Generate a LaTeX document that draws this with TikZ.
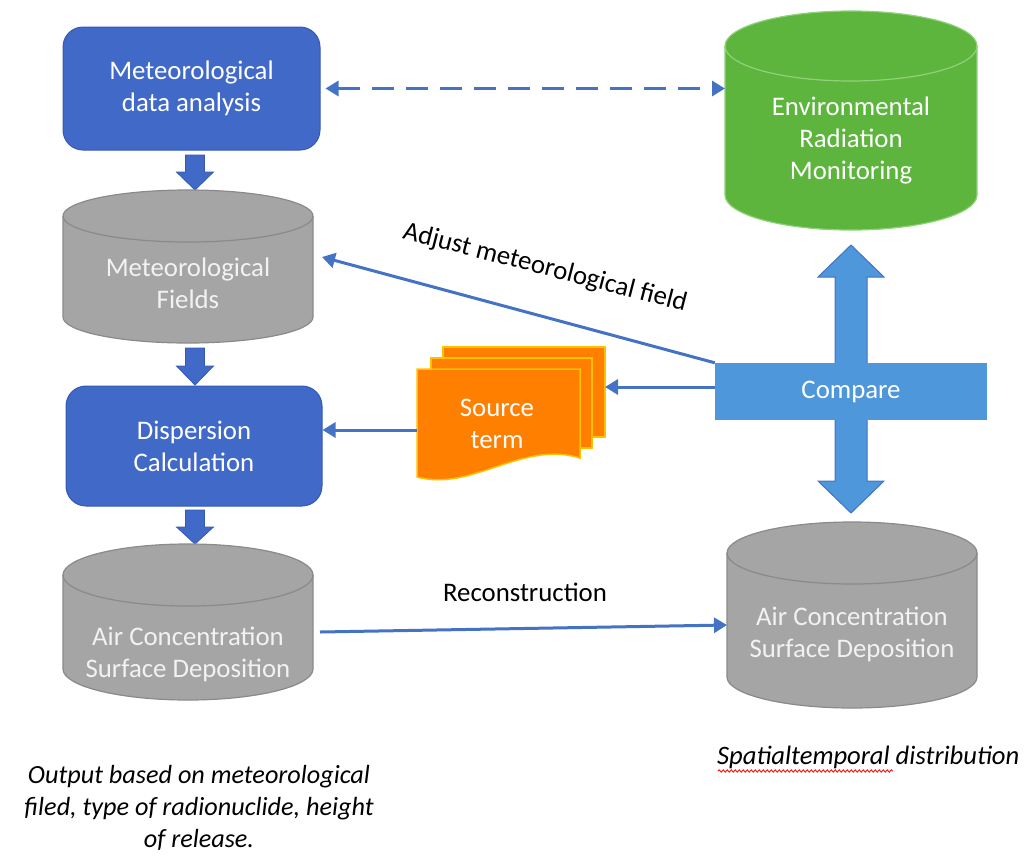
\documentclass[tikz,border=0pt]{standalone}
\usepackage{fontspec}
\setmainfont{Carlito}
\usetikzlibrary{arrows.meta,decorations.pathmorphing}
\definecolor{boxblue}{HTML}{4069C8}
\definecolor{boxedge}{HTML}{3559B0}
\definecolor{lineblue}{HTML}{4472C4}
\definecolor{cylgray}{HTML}{A5A5A5}
\definecolor{cyledge}{HTML}{8A8A8A}
\definecolor{txtgray}{HTML}{F2F2F2}
\definecolor{cylgreen}{HTML}{5DB53D}
\definecolor{greenedge}{HTML}{8FD27A}
\definecolor{cmpblue}{HTML}{4E97DA}
\definecolor{srcorange}{HTML}{FF7F00}
\definecolor{srcedge}{HTML}{FFC000}
\newcommand\cylshape[7]{%
  \pgfmathsetmacro\crx{(#2-#1)/2}%
  \filldraw[fill=#6, draw=#7, line width=1.2pt] (#1,#3+#5) -- (#1,#4-#5)
    arc[start angle=180,end angle=360,x radius=\crx pt,y radius=#5pt]
    -- (#2,#3+#5)
    arc[start angle=0,end angle=180,x radius=\crx pt,y radius=#5pt] -- cycle;
  \draw[draw=#7, line width=1.2pt] (#1,#3+#5)
    arc[start angle=180,end angle=360,x radius=\crx pt,y radius=#5pt];
}
\newcommand\blkdown[4]{%
  \filldraw[fill=boxblue, draw=boxedge, line width=0.8pt]
    (#1-9.5,#2) -- (#1+9.5,#2) -- (#1+9.5,#3) -- (#1+18.5,#3) -- (#1,#4)
    -- (#1-18.5,#3) -- (#1-9.5,#3) -- cycle;
}
\begin{document}
\begin{tikzpicture}[x=1pt,y=-1pt,
  conn/.style={draw=lineblue, line width=3pt, -{Triangle[length=13pt,width=15pt]}},
  big/.style={font=\fontsize{26.8}{32}\selectfont},
  wtxt/.style={big, align=center, text=white, inner sep=0pt},
  gtxt/.style={big, align=center, text=txtgray, inner sep=0pt},
  btxt/.style={big, align=center, text=black, inner sep=0pt},
  ghost/.style={inner sep=0pt, outer sep=0pt, draw=none},
  bluebox/.style={wtxt, fill=boxblue, draw=boxedge, line width=1pt, rounded corners=20pt},
  srcpage/.style={fill=srcorange, draw=srcedge, line width=1.5pt}]
\useasboundingbox (0,0) rectangle (1026,855);

% ---- left column ----
\node[bluebox, minimum width=257pt, minimum height=123pt] (met) at (191.5,88.5) {Meteorological\\data analysis};
\blkdown{195}{155}{172}{190}

\cylshape{63}{313}{190}{343}{26}{cylgray}{cyledge}
\node[ghost, minimum width=250pt, minimum height=153pt] (fields) at (188,266.5) {};
\node[gtxt] (fieldsT) at (188,283) {Meteorological\\Fields};
\blkdown{195}{348}{366}{385}

\node[bluebox, minimum width=256pt, minimum height=120pt] (disp) at (194,446) {Dispersion\\Calculation};
\blkdown{195}{510}{527}{544}

\cylshape{63}{313}{544}{700}{31}{cylgray}{cyledge}
\node[ghost, minimum width=250pt, minimum height=156pt] (airL) at (188,622) {};
\node[gtxt] (airLT) at (188,654) {Air Concentration\\Surface Deposition};

% ---- right column ----
\cylshape{725}{977}{11}{230}{35}{cylgreen}{greenedge}
\node[ghost, minimum width=252pt, minimum height=219pt] (env) at (851,120.5) {};
\node[wtxt] (envT) at (851,140) {Environmental\\Radiation\\Monitoring};

\cylshape{727}{977}{522}{708}{31}{cylgray}{cyledge}
\node[ghost, minimum width=250pt, minimum height=186pt] (airR) at (852,615) {};
\node[gtxt] (airRT) at (852,634) {Air Concentration\\Surface Deposition};

% compare cross
\filldraw[fill=cmpblue, draw=lineblue, line width=1pt]
  (851,245) -- (884,277) -- (867,277) -- (867,481) -- (884,481) -- (851,513)
  -- (818,481) -- (835,481) -- (835,277) -- (818,277) -- cycle;
\node[wtxt, fill=cmpblue, minimum width=272pt, minimum height=57pt] (compare) at (851,391.5) {Compare};

% source term
\filldraw[srcpage] (443,347) rectangle (605,437);
\filldraw[srcpage] (431,358) rectangle (592,448);
\filldraw[srcpage] (417,369) -- (417,477) .. controls (472,492) and (522,440) .. (580,458) -- (580,369) -- cycle;
\node[ghost, minimum width=162pt, minimum height=90pt] (srcback) at (524,392) {};
\node[ghost, minimum width=163pt, minimum height=108pt] (srcfront) at (498.5,423) {};
\node[wtxt] (srcT) at (497,424) {Source\\term};

% ---- connectors ----
\draw[line width=3pt, draw=lineblue, dash pattern=on 22pt off 12pt,
  {Triangle[length=13pt,width=15pt]}-{Triangle[length=13pt,width=15pt]}]
  ([xshift=5pt]met.east) -- (env.west |- met.east);

\coordinate (adjend) at (322,257);
\draw[conn] (compare.north west) -- (adjend);
\node[btxt, rotate=-14.5] (adjT) at (545,268) {Adjust meteorological field};

\draw[conn] (compare.west |- 0,387) -- (srcback.east |- 0,387);
\draw[conn] (srcfront.west |- 0,430) -- (disp.east |- 0,430);

\coordinate (recA) at (320,632);
\coordinate (recB) at (727,625);
\draw[conn] (recA) -- (recB);
\node[btxt] (recT) at (525,592) {Reconstruction};

% ---- notes ----
\node[btxt, font=\fontsize{26.2}{32}\selectfont\itshape] (note) at (199,808)
  {Output based on meteorological\\filed, type of radionuclide, height\\of release.};
\node[btxt, font=\fontsize{26.6}{32}\selectfont\itshape, anchor=west] (spat) at (717,757) {Spatialtemporal distribution};
\draw[red, line width=0.8pt, decorate, decoration={snake, amplitude=1.2pt, segment length=4pt}]
  (718,771) -- (893,771);
\end{tikzpicture}
\end{document}
